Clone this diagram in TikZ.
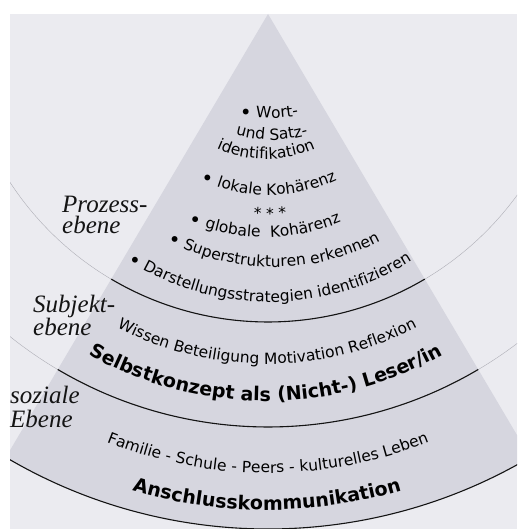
\documentclass[tikz,border=0pt]{standalone}
\usepackage{fontspec}
\usetikzlibrary{decorations.text}

\newfontfamily\wedgefont{DejaVu Sans}
\newfontfamily\labelfont{Liberation Serif}
\newcommand\regtext{\wedgefont\fontsize{15.5}{15.5}\selectfont}
\newcommand\boldtext{\wedgefont\bfseries\fontsize{19}{19}\selectfont}
% list bullet, set a little larger than the running text and kept at x-height middle
\newcommand\listdot{\fontsize{20}{20}\selectfont\raisebox{-3pt}{•}}

\definecolor{pagegray}{HTML}{EBEBF0}
\definecolor{wedgegray}{HTML}{D6D6DF}
\definecolor{inkdark}{HTML}{141414}
\definecolor{faintline}{HTML}{ADADB5}

\tikzset{
  % one line of text set along a downward-bowed arc
  curvedline/.style 2 args={decorate,
    decoration={text along path, text align=center, text={|#1|#2}}},
  levelarc/.style={draw=inkdark, line width=1.1pt},
  faintarc/.style={draw=faintline, line width=0.4pt},
  sidelabel/.style={font=\labelfont\itshape\fontsize{25}{21.5}\selectfont,
    align=left, inner sep=0pt, text=inkdark, anchor=north west},
}

\begin{document}
\begin{tikzpicture}[x=1pt, y=1pt]
\useasboundingbox (0,0) rectangle (517,-529);
\fill[white] (0,0) rectangle (517,-529);

% printed page
\fill[pagegray] (10,-14) rectangle (517,-529);

\begin{scope}
  \clip (10,-14) rectangle (517,-529);
  % the pyramid as a circular sector from the apex
  \coordinate (apex) at (268,-14);
  \fill[wedgegray] (apex) -- ++(-120.6:515pt)
    arc[start angle=-120.6, end angle=-59.4, radius=515pt] -- cycle;
  % level boundaries, faint outside the pyramid
  \draw[faintarc] (apex) ++(-180:308pt) arc[start angle=-180, end angle=0, radius=308pt];
  \draw[faintarc] (apex) ++(-180:413pt) arc[start angle=-180, end angle=0, radius=413pt];
  \draw[levelarc] (apex) ++(-120.6:308pt) arc[start angle=-120.6, end angle=-59.4, radius=308pt];
  \draw[levelarc] (apex) ++(-120.6:413pt) arc[start angle=-120.6, end angle=-59.4, radius=413pt];
  \draw[levelarc] (apex) ++(-125:515pt) arc[start angle=-125, end angle=-55, radius=515pt];
\end{scope}

% process level
\path[curvedline={\regtext}{{\listdot} Wort-}] (269,-118) ++(90:160pt) ++(-160:160pt)
  arc[start angle=-160, end angle=-20, radius=160pt];
\path[curvedline={\regtext}{und Satz-}] (272,-140) ++(90:130pt) ++(-160:130pt)
  arc[start angle=-160, end angle=-20, radius=130pt];
\path[curvedline={\regtext}{identifikation}] (266,-159) ++(90:121pt) ++(-160:121pt)
  arc[start angle=-160, end angle=-20, radius=121pt];
\path[curvedline={\regtext}{{\listdot} lokale Kohärenz}] (269,-195) ++(90:160pt) ++(-160:160pt)
  arc[start angle=-160, end angle=-20, radius=160pt];
\path[curvedline={\regtext}{* * *}] (270,-219) ++(90:181pt) ++(-160:181pt)
  arc[start angle=-160, end angle=-20, radius=181pt];
\path[curvedline={\regtext}{{\listdot} globale {\ }Kohärenz}] (265,-237) ++(90:199pt) ++(-160:199pt)
  arc[start angle=-160, end angle=-20, radius=199pt];
\path[curvedline={\regtext}{{\listdot} Superstrukturen erkennen}] (274,-267) ++(90:229pt) ++(-160:229pt)
  arc[start angle=-160, end angle=-20, radius=229pt];
\path[curvedline={\regtext}{{\listdot} Darstellungsstrategien identifizieren}] (270,-302) ++(90:264pt) ++(-160:264pt)
  arc[start angle=-160, end angle=-20, radius=264pt];

% subject level
\path[curvedline={\regtext}{Wissen Beteiligung Motivation Reflexion}] (267,-364) ++(90:326pt) ++(-150:326pt)
  arc[start angle=-150, end angle=-30, radius=326pt];
\path[curvedline={\boldtext}{Selbstkonzept als (Nicht-) Leser/in}] (266,-401) ++(90:363pt) ++(-150:363pt)
  arc[start angle=-150, end angle=-30, radius=363pt];

% social level
\path[curvedline={\regtext}{Familie - Schule - Peers - kulturelles Leben}] (268,-473) ++(90:435pt) ++(-140:435pt)
  arc[start angle=-140, end angle=-40, radius=435pt];
\path[curvedline={\boldtext}{Anschlusskommunikation}] (267,-510) ++(90:472pt) ++(-140:472pt)
  arc[start angle=-140, end angle=-40, radius=472pt];

% level names
\node[sidelabel] (prozess) at (62,-195.5) {Prozess-\\ebene};
\node[sidelabel] (subjekt) at (33,-294.5) {Subjekt-\\ebene};
\node[sidelabel, font=\labelfont\itshape\fontsize{25}{24}\selectfont] (sozial) at (10,-385.5) {soziale\\Ebene};
\end{tikzpicture}
\end{document}
